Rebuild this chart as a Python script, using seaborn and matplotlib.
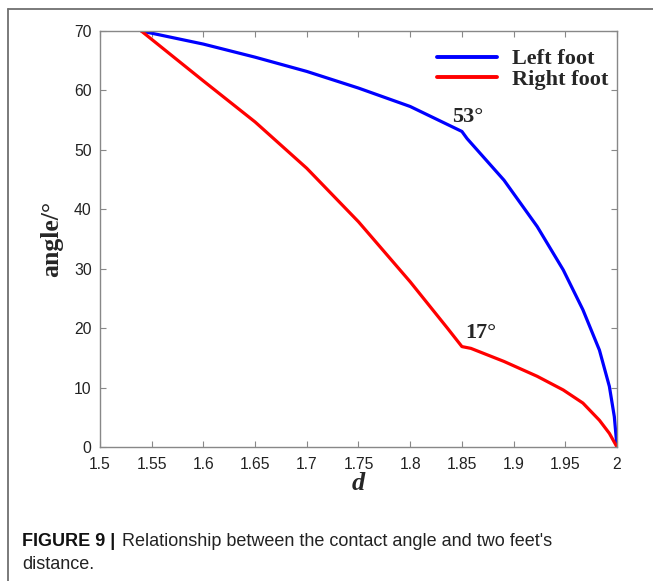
import matplotlib
matplotlib.use("Agg")
import matplotlib.pyplot as plt
import pandas as pd
import seaborn as sns
from matplotlib.lines import Line2D

# values
left_d = [1.54, 1.6, 1.65, 1.70, 1.75, 1.80, 1.85, 1.855, 1.8907, 1.9228,
          1.948, 1.967, 1.983, 1.9926, 1.9974, 2.0]
left_angle = [70, 67.8, 65.6, 63.2, 60.4, 57.3, 53.1, 51.9, 44.9, 37.1,
              29.8, 23.1, 16.3, 10.2, 5.1, 0]
right_d = [1.54, 1.6, 1.65, 1.70, 1.75, 1.80, 1.836, 1.85, 1.8587, 1.8907,
           1.9228, 1.948, 1.967, 1.983, 1.9926, 2.0]
right_angle = [70, 61.6, 54.7, 46.9, 37.9, 27.8, 20.0, 16.9, 16.6, 14.4,
               11.9, 9.6, 7.4, 4.5, 2.3, 0]
x_ticks = [1.5, 1.55, 1.6, 1.65, 1.7, 1.75, 1.8, 1.85, 1.9, 1.95, 2]
x_tick_labels = ["1.5", "1.55", "1.6", "1.65", "1.7", "1.75", "1.8", "1.85",
                 "1.9", "1.95", "2"]
y_ticks = [0, 10, 20, 30, 40, 50, 60, 70]
names = ["Left foot", "Right foot"]
colors = ["#0000ff", "#ff0000"]

df = pd.concat([
    pd.DataFrame({"d": left_d, "angle": left_angle, "foot": names[0]}),
    pd.DataFrame({"d": right_d, "angle": right_angle, "foot": names[1]}),
])

sns.set_theme(style="white")
plt.rcParams["font.family"] = ["Liberation Sans", "DejaVu Sans"]

fig = plt.figure(figsize=(6.53, 5.81), dpi=100)
ax = fig.add_axes([0.1531, 0.2306, 0.7918, 0.716])

sns.lineplot(data=df, x="d", y="angle", hue="foot", palette=colors,
             sort=False, estimator=None, linewidth=2.3, legend=False, ax=ax)

ax.set_xlim(1.5, 2)
ax.set_ylim(0, 70)
ax.set_xticks(x_ticks)
ax.set_xticklabels(x_tick_labels)
ax.set_yticks(y_ticks)
ax.tick_params(direction="in", length=4, width=0.8, color="#888888",
               labelsize=11.3, labelcolor="#222222", top=True, right=True,
               bottom=True, left=True)
ax.tick_params(axis="x", pad=7)
ax.tick_params(axis="y", pad=6)
for s in ax.spines.values():
    s.set_color("#888888")
    s.set_linewidth(1.0)

serif = ["Liberation Serif", "DejaVu Serif"]
ax.set_xlabel("d", fontsize=19, family=serif, style="italic",
              fontweight="bold", labelpad=0)
ax.set_ylabel("angle/°", fontsize=18.5, family=serif, fontweight="bold",
              labelpad=8)

ax.text(1.8405, 54.7, "53°", fontsize=16, family=serif, fontweight="bold")
ax.text(1.8535, 18.3, "17°", fontsize=16, family=serif, fontweight="bold")

handles = [Line2D([], [], color=c, lw=2.8) for c in colors]
ax.legend(handles, names, loc="upper left", frameon=False,
          prop={"family": serif, "weight": "bold", "size": 16},
          handlelength=2.7, handletextpad=0.7, labelspacing=0.0,
          bbox_to_anchor=(0.651, 0.957), borderaxespad=0, borderpad=0)

# outer frame lines (left and top) of the figure panel
fig.add_artist(Line2D([0.0123, 0.0123], [0, 0.9845], color="#707070", lw=1.3,
                      transform=fig.transFigure))
fig.add_artist(Line2D([0.0123, 1.0], [0.9845, 0.9845], color="#707070", lw=1.3,
                      transform=fig.transFigure))

fig.text(0.034, 0.060, "FIGURE 9 |", fontsize=13, fontweight="bold",
         color="#111111")
fig.text(0.187, 0.060, "Relationship between the contact angle and two feet's",
         fontsize=13, color="#222222")
fig.text(0.034, 0.020, "distance.", fontsize=13, color="#222222")

fig.savefig("out.png", dpi=100)
